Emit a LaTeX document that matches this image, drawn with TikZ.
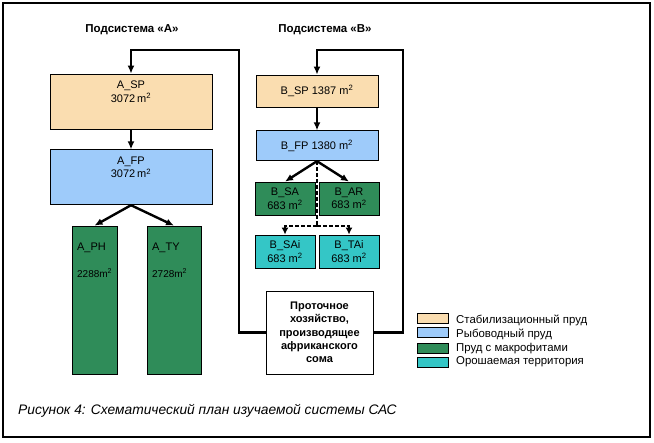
\documentclass[tikz,border=0pt]{standalone}
\usepackage{fontspec}
\setmainfont{Liberation Sans}
\usepackage{xcolor}
\usetikzlibrary{arrows.meta}
\usetikzlibrary{positioning}

\definecolor{stabcol}{RGB}{250,221,176}
\definecolor{fishcol}{RGB}{158,203,250}
\definecolor{macrocol}{RGB}{47,140,89}
\definecolor{irrcol}{RGB}{52,198,198}

\newcommand{\sqm}{m\textsuperscript{2}}

\begin{document}
\begin{tikzpicture}[x=1pt,y=-1pt,font=\fontsize{11}{13.5}\selectfont,
	pond/.style={draw, line width=0.8pt, inner sep=0pt, align=center},
	stab pond/.style={pond, fill=stabcol},
	fish pond/.style={pond, fill=fishcol},
	macro pond/.style={pond, fill=macrocol},
	irr area/.style={pond, fill=irrcol},
	title node/.style={font=\bfseries\fontsize{11.5}{13}\selectfont},
	swatch/.style={draw, line width=0.6pt, minimum width=31pt, minimum height=10pt, inner sep=0pt},
	flow arrow/.style={line width=2.4pt, -{Latex[length=8pt,width=7pt]}},
	irrig line/.style={line width=2.6pt, dash pattern=on 4pt off 2pt}]
			\useasboundingbox (0,0) rectangle (654,443);
			\draw[line width=1.5pt] (3,3) rectangle (650,437);
			
			% Nodes
			\node[title node] (titleA) at (132,30) {Подсистема «A»};
			\node[title node] (titleB) at (325,30) {Подсистема «B»};
			
			\node[stab pond, minimum width=162pt, minimum height=55pt,
				label={[anchor=north, yshift=-4pt, align=center]north:A\_SP\\3072\,\sqm}] (asp) at (131,101.5) {};
			\node[fish pond, minimum width=162pt, minimum height=55pt,
				label={[anchor=north, yshift=-4pt, align=center]north:A\_FP\\3072\,\sqm}] (afp) [below=20pt of asp] {};
			\node[macro pond, minimum width=45pt, minimum height=148pt,
				label={[anchor=north west, xshift=2pt, yshift=-14pt, align=left]north west:A\_PH\\[13pt]{\fontsize{10}{12}\selectfont 2288\sqm}}] (aph) at (94.5,300) {};
			\node[macro pond, minimum width=54pt, minimum height=148pt,
				label={[anchor=north west, xshift=2pt, yshift=-14pt, align=left]north west:A\_TY\\[13pt]{\fontsize{10}{12}\selectfont 2728\sqm}}] (aty) at (174,300) {};
			
			\node[stab pond, minimum width=122pt, minimum height=32pt] (bsp) at (317,91) {B\_SP 1387 \sqm};
			\node[fish pond, minimum width=122pt, minimum height=30pt] (bfp) [below=23pt of bsp] {B\_FP 1380 \sqm};
			\node[macro pond, minimum width=60pt, minimum height=33pt] (bsa) at (285,198.5) {B\_SA\\683 \sqm};
			\node[macro pond, minimum width=60pt, minimum height=33pt] (bar) at (349,198.5) {B\_AR\\683 \sqm};
			\node[irr area, minimum width=60pt, minimum height=33pt] (bsai) at (285,251.5) {B\_SAi\\683 \sqm};
			\node[irr area, minimum width=60pt, minimum height=33pt] (btai) at (349,251.5) {B\_TAi\\683 \sqm};
			
			\node[pond, fill=white, minimum width=107pt, minimum height=83pt,
				font=\bfseries\fontsize{11}{13.3}\selectfont] (farm) at (319.5,332.5)
				{Проточное\\хозяйство,\\производящее\\африканского\\сома};
			
			\coordinate (aloop) at (239,50);
			\coordinate (bloop) at (403,50);
			\coordinate (split) at (317,226);
			
			% Connectors
			\draw[flow arrow] (farm.west) -| (aloop) -| (asp.north);
			\draw[flow arrow] (farm.east) -| (bloop) -| (bsp.north);
			
			\path[flow arrow]
			(asp) edge (afp)
			(afp.south) edge (aph.north)
			(afp.south) edge (aty.north)
			(bsp) edge (bfp)
			(bfp.south) edge (bsa.north)
			(bfp.south) edge (bar.north);
			
			\draw[irrig line] (bfp.south) -- (split);
			\draw[irrig line, -{Latex[length=7pt,width=7pt]}] (split) -| (bsai.north);
			\draw[irrig line, -{Latex[length=7pt,width=7pt]}] (split) -| (btai.north);
			
			% Legend
			\node[swatch, fill=stabcol] (legstab) at (432.5,318) {};
			\node[swatch, fill=fishcol] (legfish) at (432.5,332) {};
			\node[swatch, fill=macrocol] (legmacro) at (432.5,348) {};
			\node[swatch, fill=irrcol] (legirr) at (432.5,362) {};
			\node[anchor=west, inner sep=0pt, font=\fontsize{11.4}{13}\selectfont] (txtstab) at (456,320) {Стабилизационный пруд};
			\node[anchor=west, inner sep=0pt, font=\fontsize{11.4}{13}\selectfont] (txtfish) at (456,334.5) {Рыбоводный пруд};
			\node[anchor=west, inner sep=0pt, font=\fontsize{11.4}{13}\selectfont] (txtmacro) at (456,348.5) {Пруд с макрофитами};
			\node[anchor=west, inner sep=0pt, font=\fontsize{11.4}{13}\selectfont] (txtirr) at (456,362) {Орошаемая территория};
			
			% Caption
			\node[anchor=west, inner sep=0pt, font=\itshape\fontsize{13.8}{17}\selectfont] (caption) at (18,411)
				{Рисунок 4: Схематический план изучаемой системы САС};
			
		\end{tikzpicture}
\end{document}
